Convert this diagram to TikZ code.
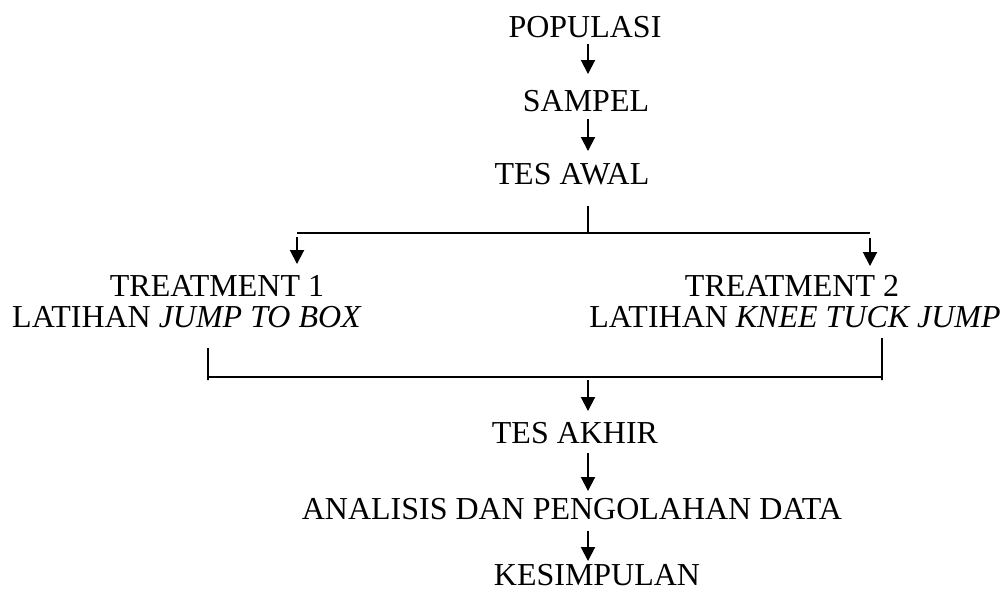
\documentclass[tikz,border=0pt]{standalone}
\usepackage{fontspec}
\setmainfont{Liberation Serif}
\usepackage{tikz}
\usetikzlibrary{arrows.meta}

\begin{document}
\begin{tikzpicture}[>={Triangle[length=2.8mm,width=2.8mm]},line width=1.1pt,
  font=\fontsize{18.2}{22}\selectfont,
  lbl/.style={anchor=base,inner sep=0pt,text height=4.2mm,text depth=0pt}]
\useasboundingbox (0,0) rectangle (20.12,11.8);
\node[lbl] (pop) at (11.70,11.04) {POPULASI};
\node[lbl] (samp) at (11.72,9.56) {SAMPEL};
\node[lbl] (tawal) at (11.44,8.10) {TES AWAL};
\node[lbl] (t1) at (4.34,5.88) {TREATMENT 1};
\node[lbl] (t1b) at (3.74,5.26) {LATIHAN \textit{JUMP TO BOX}};
\node[lbl] (t2) at (15.84,5.88) {TREATMENT 2};
\node[lbl] (t2b) at (15.90,5.26) {LATIHAN \textit{KNEE TUCK JUMP}};
\node[lbl] (takhir) at (11.50,2.94) {TES AKHIR};
\node[lbl] (olah) at (11.44,1.42) {ANALISIS DAN PENGOLAHAN DATA};
\node[lbl] (simpul) at (11.94,0.10) {KESIMPULAN};
\coordinate (axis) at (11.76,0);
\coordinate (split) at (11.76,7.14);
\coordinate (splitL) at (5.94,7.14);
\coordinate (splitR) at (17.40,7.14);
\coordinate (join) at (11.76,4.26);
\coordinate (joinL) at (4.16,4.26);
\coordinate (joinR) at (17.64,4.26);
\draw[->,shorten <=1mm,shorten >=3.2mm] (pop.south -| axis) -- (samp.north -| axis);
\draw[->,shorten <=1.2mm,shorten >=2.4mm] (samp.south -| axis) -- (tawal.north -| axis);
\draw[shorten <=4mm] (tawal.south -| split) -- (split);
\draw (splitL) -- (splitR);
\draw[->,shorten <=0.8mm,shorten >=2mm] (splitL) -- (t1.north -| splitL);
\draw[->,shorten <=1mm,shorten >=1.6mm] (splitR) -- (t2.north -| splitR);
\draw[shorten <=4mm,shorten >=2mm] (t1b.south -| joinL) -- ([yshift=-0.6mm]joinL) -- (joinL) -- (joinR) -- ([yshift=-0.6mm]joinR) -- (t2b.south -| joinR);
\draw[->,shorten <=0.6mm,shorten >=2mm] (join) -- (takhir.north -| join);
\draw[->,shorten <=1.8mm,shorten >=1.2mm] (takhir.south -| axis) -- (olah.north -| axis);
\draw[->,shorten <=2.2mm,shorten >=0.4mm] (olah.south -| axis) -- (simpul.north -| axis);
\end{tikzpicture}
\end{document}
